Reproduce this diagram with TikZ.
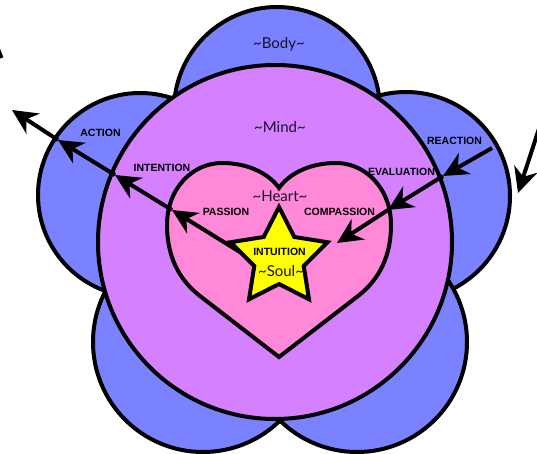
\documentclass[tikz,border=0pt]{standalone}
\usepackage{fontspec}
\newfontfamily\lblfont{Liberation Sans}
\newfontfamily\handfont{Lato}
\usetikzlibrary{arrows.meta}
\definecolor{petalblue}{RGB}{122,130,255}
\definecolor{mindpurple}{RGB}{213,128,255}
\definecolor{heartpink}{RGB}{255,136,216}
\definecolor{soulyellow}{RGB}{255,255,0}
\definecolor{scripttext}{RGB}{25,15,45}
\begin{document}
\begin{tikzpicture}[x=1pt,y=-1pt,
  outl/.style={draw=black,line width=4pt},
  petalst/.style={outl,fill=petalblue},
  mindst/.style={outl,fill=mindpurple},
  heartst/.style={outl,fill=heartpink,line join=miter},
  starst/.style={outl,fill=soulyellow,line join=miter},
  arr/.style={draw=black,line width=4pt,-{Stealth[length=25pt,width=24pt,inset=8pt]}},
  plainline/.style={draw=black,line width=4pt},
  lbl/.style={font=\lblfont\bfseries\fontsize{10.5}{12}\selectfont,inner sep=0pt},
  scripttxt/.style={font=\handfont\fontsize{15}{17}\selectfont,text=scripttext,inner sep=0pt}]
\useasboundingbox (0,0) rectangle (537,454);
\clip (0,0) rectangle (537,454);
% petals (body)
\path[petalst] (277,110) circle[radius=103];
\path[petalst] (140,195) circle[radius=102];
\path[petalst] (406,196) circle[radius=104];
\path[petalst] (203,342) circle[radius=110];
\path[petalst] (357,342) circle[radius=110];
% mind
\path[mindst] (275,242) circle[radius=177];
% heart
\path[heartst] (279,357) -- (200,296)
  .. controls (178,279) and (167,255) .. (167,225)
  .. controls (167,188) and (193,163) .. (222,163)
  .. controls (250,163) and (270,175) .. (279,188)
  .. controls (288,175) and (308,163) .. (336,163)
  .. controls (365,163) and (391,188) .. (391,225)
  .. controls (391,255) and (380,279) .. (358,296) -- cycle;
% arrow coordinates
\coordinate (Lstart) at (248,257);
\coordinate (Lpass) at (172,210);
\coordinate (Lint) at (115,175);
\coordinate (Lact) at (58,140);
\coordinate (Lout) at (12,110);
\coordinate (Rstart) at (492,148);
\coordinate (Rreac) at (443,176);
\coordinate (Reval) at (388,210);
\coordinate (Rcomp) at (337,243);
\coordinate (FRs) at (548,101);
\coordinate (FRt) at (518,193);
\coordinate (TLa) at (-4,44);
\coordinate (TLb) at (1.5,58);
\draw[arr] (Lstart) -- (Lpass);
\draw[arr] (Lpass) -- (Lint);
\draw[arr] (Lint) -- (Lact);
\draw[arr] (Lact) -- (Lout);
\draw[arr] (Rstart) -- (Rreac);
\draw[arr] (Rreac) -- (Reval);
\draw[arr] (Reval) -- (Rcomp);
\draw[arr] (FRs) -- (FRt);
\draw[plainline] (TLa) -- (TLb);
% star (soul)
\path[starst,shift={(279,258)}] (-90:51) -- (-54:26) -- (-18:51) -- (18:26) -- (54:51)
  -- (90:26) -- (126:51) -- (162:26) -- (198:51) -- (234:26) -- cycle;
% labels
\node[lbl] (action) at (100.5,133) {ACTION};
\node[lbl] (intention) at (162,168) {INTENTION};
\node[lbl] (passion) at (226,211.5) {PASSION};
\node[lbl] (reaction) at (454.5,141) {REACTION};
\node[lbl] (evaluation) at (401.5,171.5) {EVALUATION};
\node[lbl] (compassion) at (339.5,211.5) {COMPASSION};
\node[lbl] (intuition) at (279.5,251.5) {INTUITION};
\node[scripttxt] (body) at (279,44) {\textasciitilde Body\textasciitilde};
\node[scripttxt] (mind) at (280,127) {\textasciitilde Mind\textasciitilde};
\node[scripttxt] (heart) at (280,196) {\textasciitilde Heart\textasciitilde};
\node[scripttxt] (soul) at (281,271) {\textasciitilde Soul\textasciitilde};
\end{tikzpicture}
\end{document}
